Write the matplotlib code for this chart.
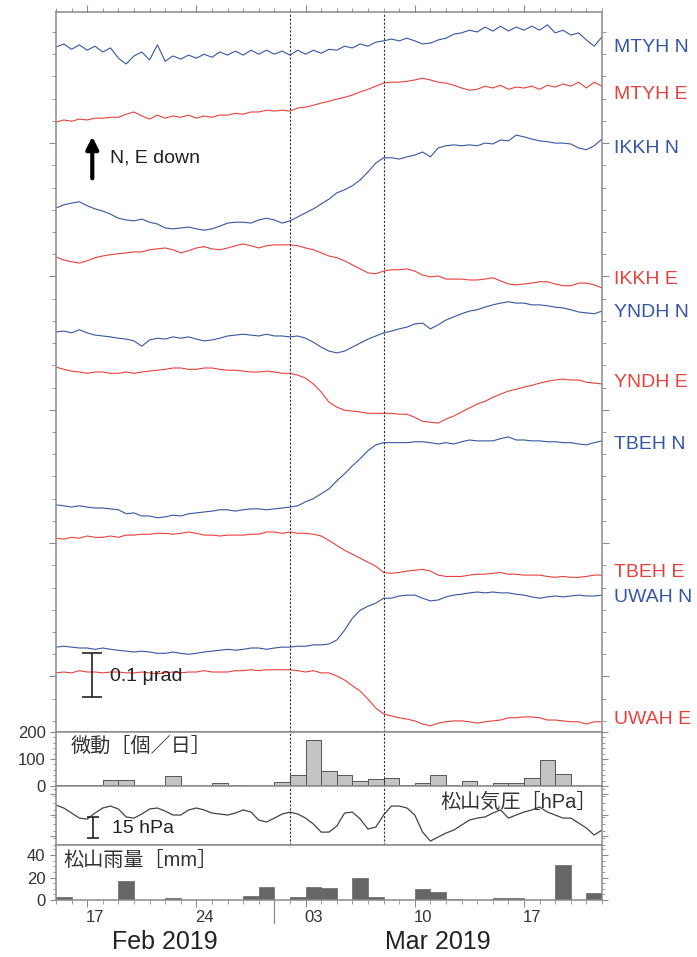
import numpy as np
import matplotlib
matplotlib.use("Agg")
import matplotlib.pyplot as plt
from matplotlib import ticker
from matplotlib.transforms import blended_transform_factory

plt.rcParams['font.family'] = ['Liberation Sans', 'Noto Sans CJK JP', 'DejaVu Sans']

# time in days since 2019-02-15 00:00, one sample every 12 h
t = np.arange(71) * 0.5
days = np.arange(36)

# tilt change from the first sample, nrad (up = N / E down)
mtyh_n = [0, 7, -5, 5, -7, 2, -11, -2, -25, -38, -20, -11, -29, 5, -32, -20, -27, -18, -25, -16,
          -23, -11, -18, -9, -18, -7, -16, -7, -16, -9, -18, -7, -16, -7, -14, -5, -7, 2, -2, 7,
          2, 11, 14, 18, 14, 20, 14, 7, 9, 16, 20, 29, 32, 38, 34, 45, 36, 47, 36, 45,
          38, 47, 38, 50, 32, 38, 27, 32, 16, 2, 23]
mtyh_e = [0, 5, 2, 7, 5, 9, 9, 11, 11, 18, 23, 14, 7, 16, 9, 14, 11, 16, 9, 14,
          11, 16, 16, 20, 18, 23, 23, 27, 25, 27, 25, 32, 34, 38, 43, 47, 52, 56, 61, 68,
          74, 81, 88, 90, 90, 92, 95, 99, 95, 90, 88, 83, 77, 72, 74, 81, 77, 83, 74, 79,
          77, 81, 74, 83, 79, 86, 81, 90, 77, 90, 81]
ikkh_n = [0, 7, 11, 14, 5, -2, -7, -14, -23, -27, -29, -25, -32, -36, -45, -47, -45, -43, -47, -50,
          -47, -41, -34, -32, -32, -34, -27, -23, -27, -34, -29, -20, -11, -2, 9, 20, 34, 41, 50, 63,
          81, 101, 113, 113, 110, 115, 119, 126, 115, 135, 140, 142, 140, 142, 140, 146, 144, 153, 151, 164,
          160, 155, 151, 149, 146, 146, 144, 135, 131, 140, 155]
ikkh_e = [0, -7, -11, -14, -9, -2, 2, 5, 7, 9, 11, 11, 16, 18, 20, 16, 9, 14, 20, 23,
          18, 16, 20, 25, 29, 25, 20, 25, 27, 27, 27, 25, 20, 16, 9, 2, -2, -9, -18, -27,
          -36, -38, -32, -29, -29, -27, -32, -41, -45, -43, -50, -50, -50, -52, -52, -50, -47, -54, -61, -63,
          -61, -59, -56, -56, -61, -65, -65, -59, -59, -63, -70]
yndh_n = [0, 2, -2, 5, -2, -7, -9, -11, -14, -16, -20, -32, -18, -14, -16, -11, -14, -11, -16, -20,
          -18, -14, -9, -7, -5, -7, -9, -5, -9, -9, -11, -9, -14, -23, -34, -43, -47, -43, -34, -25,
          -16, -9, -2, 2, 7, 11, 18, 20, 7, 16, 27, 34, 41, 47, 50, 56, 61, 65, 68, 65,
          65, 61, 61, 59, 56, 54, 50, 45, 43, 41, 47]
yndh_e = [0, -5, -9, -11, -14, -11, -11, -14, -14, -11, -14, -11, -9, -7, -5, -2, -2, -5, -5, -2,
          -2, -5, -7, -7, -9, -11, -11, -9, -11, -14, -14, -18, -25, -38, -56, -79, -90, -97, -99, -101,
          -104, -104, -104, -104, -106, -106, -113, -122, -124, -126, -117, -110, -101, -92, -83, -77, -68, -61, -54, -50,
          -45, -41, -36, -32, -29, -27, -29, -29, -34, -36, -38]
tbeh_n = [0, -2, -5, -2, -5, -7, -7, -9, -11, -20, -18, -25, -25, -29, -27, -23, -25, -20, -18, -16,
          -14, -11, -11, -14, -11, -9, -9, -11, -9, -7, -5, -2, 7, 14, 25, 36, 54, 70, 88, 104,
          122, 135, 140, 140, 140, 140, 142, 142, 140, 137, 140, 137, 142, 146, 144, 144, 144, 149, 153, 146,
          146, 144, 144, 142, 142, 140, 140, 137, 135, 140, 144]
tbeh_e = [0, -2, 2, 0, 5, 2, 2, 5, 2, 7, 7, 9, 9, 11, 11, 9, 11, 14, 11, 7,
          7, 5, 7, 7, 7, 9, 9, 14, 14, 11, 14, 11, 11, 9, 5, -5, -16, -27, -36, -45,
          -54, -63, -77, -79, -77, -74, -72, -70, -74, -83, -86, -86, -86, -83, -81, -81, -79, -77, -81, -81,
          -83, -83, -83, -86, -88, -86, -88, -88, -86, -83, -83]
uwah_n = [0, 2, 0, -2, -2, -5, -2, -5, -7, -9, -11, -9, -11, -14, -14, -11, -14, -16, -14, -11,
          -9, -7, -5, -7, -5, -2, -2, -5, -2, 0, 0, 2, 2, 5, 5, 7, 16, 38, 65, 83,
          92, 99, 110, 110, 115, 117, 117, 110, 104, 106, 113, 117, 119, 122, 124, 122, 124, 122, 122, 119,
          117, 113, 110, 113, 115, 113, 115, 117, 115, 115, 117]
uwah_e = [0, 2, 0, 5, 2, 2, 0, 2, 2, 0, 0, 2, 0, -2, 0, 2, 0, 2, 2, 5,
          2, 2, 2, 5, 5, 7, 5, 7, 7, 7, 7, 5, 2, 5, 0, 0, -7, -16, -29, -41,
          -59, -79, -92, -97, -101, -104, -108, -115, -119, -113, -110, -108, -108, -110, -113, -110, -108, -106, -101, -101,
          -99, -99, -101, -106, -106, -108, -110, -110, -115, -110, -110]

names = ["MTYH N", "MTYH E", "IKKH N", "IKKH E", "YNDH N",
         "YNDH E", "TBEH N", "TBEH E", "UWAH N", "UWAH E"]
traces = [mtyh_n, mtyh_e, ikkh_n, ikkh_e, yndh_n, yndh_e, tbeh_n, tbeh_e, uwah_n, uwah_e]
offsets = [1541, 1372, 1179, 1069, 900, 821, 511, 436, 191, 133]

# Matsuyama pressure, hPa, every 12 h
pressure = [1023.4, 1021.3, 1017.7, 1014.1, 1013.4, 1017.7, 1021.3, 1022.7, 1020.6, 1014.9,
            1014.1, 1017.0, 1020.6, 1021.3, 1019.1, 1016.3, 1016.3, 1019.9, 1021.3, 1019.9,
            1017.7, 1017.0, 1016.3, 1017.7, 1019.9, 1018.4, 1012.7, 1011.3, 1014.1, 1017.0,
            1018.4, 1017.0, 1014.1, 1009.9, 1004.1, 1004.1, 1008.4, 1017.7, 1018.4, 1013.4,
            1006.3, 1007.7, 1016.3, 1022.7, 1022.7, 1021.3, 1016.3, 1004.1, 997.7, 1000.6,
            1003.4, 1005.6, 1009.1, 1012.7, 1014.1, 1014.9, 1017.7, 1019.9, 1014.1, 1016.3,
            1018.4, 1019.9, 1022.0, 1018.4, 1016.3, 1014.1, 1014.1, 1010.6, 1007.0, 1002.0,
            1005.6]

# tremor count per day and daily rain (mm), from 2019-02-15
tremor = [3, 3, 3, 21, 21, 0, 0, 36, 0, 0, 11, 5, 0, 0, 15, 40, 172, 54, 42, 19,
          27, 31, 5, 12, 40, 2, 19, 0, 10, 10, 30, 98, 43, 0, 0, 0]
rain = [3, 0, 0, 0, 17, 0, 0, 1.5, 0, 0, 0, 0, 4, 12, 0, 3, 12, 11, 0, 20,
        3, 0, 0, 10, 7, 1, 0, 0, 2, 1.5, 0, 0, 31, 0, 6, 0]

event_days = [15, 21]            # Mar 2, Mar 8
week_starts = [2, 9, 16, 23, 30]
day_labels = ["17", "24", "03", "10", "17"]
months = [("Feb 2019", 0, 14), ("Mar 2019", 14, 35)]

BLUE = "#3556a6"
RED = "#e8413c"
SPINE = "#8a8a8a"
TXT = "#333333"

fig = plt.figure(figsize=(6.97, 9.57), dpi=100)
L, W = 0.0803, 0.7834
ax = fig.add_axes([L, 0.2351, W, 0.7524])
ax_t = fig.add_axes([L, 0.17868, W, 0.05643])
ax_p = fig.add_axes([L, 0.11703, W, 0.06165])
ax_r = fig.add_axes([L, 0.05956, W, 0.05747])

for a in (ax, ax_t, ax_p, ax_r):
    a.set_xlim(0, 35)
    for s in a.spines.values():
        s.set_color(SPINE)
        s.set_linewidth(1.1)
    a.tick_params(colors=SPINE, labelcolor=TXT, labelsize=12, direction='out')
    a.tick_params(which='minor', colors=SPINE)

# ---- tilt panel
for name, tr, off in zip(names, traces, offsets):
    col = BLUE if name.endswith("N") else RED
    ax.plot(t, off + np.array(tr), color=col, lw=0.8)

ax.set_ylim(0, 1620)
ax.yaxis.set_major_locator(ticker.FixedLocator(np.arange(125, 1620, 300)))
ax.yaxis.set_minor_locator(ticker.FixedLocator(np.arange(25, 1620, 50)))
ax.tick_params(axis='y', which='both', left=True, right=True, labelleft=False)
ax.tick_params(axis='y', which='major', length=5)
ax.tick_params(axis='y', which='minor', length=3)
ax.xaxis.set_major_locator(ticker.FixedLocator(week_starts))
ax.xaxis.set_minor_locator(ticker.FixedLocator(days))
ax.tick_params(axis='x', which='both', top=True, bottom=False, labelbottom=False)
ax.tick_params(axis='x', which='major', length=5)
ax.tick_params(axis='x', which='minor', length=3)

label_y = [0.951, 0.886, 0.811, 0.628, 0.582, 0.486, 0.399, 0.222, 0.1875, 0.017]
for name, yy in zip(names, label_y):
    col = BLUE if name.endswith("N") else RED
    ax.text(1.022, yy, name, transform=ax.transAxes, color=col, fontsize=14,
            ha='left', va='center', clip_on=False)

# arrow + legend text
ax.annotate("", xy=(0.0665, 0.827), xytext=(0.0665, 0.769), xycoords='axes fraction',
            arrowprops=dict(arrowstyle='-|>', color='black', lw=3.0, mutation_scale=18,
                            shrinkA=0, shrinkB=0))
ax.text(0.099, 0.797, "N, E down", transform=ax.transAxes, fontsize=14,
        color='#222222', va='center')

# 0.1 urad scale bar
ax.errorbar([2.33], [128], yerr=50, color='#222222', lw=1.2, capsize=7, capthick=1.2)
ax.text(3.46, 124, "0.1 μrad", fontsize=14, color='#222222', va='center')

# ---- tremor panel
ax_t.bar(days, tremor, width=1.0, align='edge', color='#c4c4c4', edgecolor='#555555', lw=0.7)
ax_t.set_ylim(0, 200)
ax_t.set_yticks([0, 100, 200])
ax_t.yaxis.set_minor_locator(ticker.MultipleLocator(20))
ax_t.tick_params(axis='y', which='both', right=True)
ax_t.tick_params(axis='y', which='major', length=4)
ax_t.tick_params(axis='y', which='minor', length=2)
ax_t.tick_params(axis='x', which='both', bottom=False, labelbottom=False)
ax_t.text(0.026, 0.74, "微動［個／日］", transform=ax_t.transAxes, fontsize=14.5,
          color=TXT, va='center', ha='left')

# ---- pressure panel
ax_p.plot(t, pressure, color='#444444', lw=0.9)
ax_p.set_ylim(994.9, 1037)
ax_p.yaxis.set_major_locator(ticker.FixedLocator([1001, 1016, 1031]))
ax_p.yaxis.set_minor_locator(ticker.MultipleLocator(5))
ax_p.tick_params(axis='y', which='both', right=True, labelleft=False)
ax_p.tick_params(axis='y', which='major', length=4)
ax_p.tick_params(axis='y', which='minor', length=2)
ax_p.tick_params(axis='x', which='both', bottom=False, labelbottom=False)
ax_p.errorbar([2.37], [1007.4], yerr=7.5, color='#222222', lw=1.2, capsize=4.5, capthick=1.2)
ax_p.text(3.6, 1007.0, "15 hPa", fontsize=14, color='#222222', va='center')
ax_p.text(0.99, 0.72, "松山気圧［hPa］", transform=ax_p.transAxes, fontsize=14.5,
          color=TXT, va='center', ha='right')

# ---- rain panel
ax_r.bar(days, rain, width=1.0, align='edge', color='#666666', edgecolor='#666666', lw=0.5)
ax_r.set_ylim(0, 49)
ax_r.set_yticks([0, 20, 40])
ax_r.yaxis.set_minor_locator(ticker.MultipleLocator(5))
ax_r.tick_params(axis='y', which='both', right=True)
ax_r.tick_params(axis='y', which='major', length=4)
ax_r.tick_params(axis='y', which='minor', length=2)
ax_r.text(0.014, 0.72, "松山雨量［mm］", transform=ax_r.transAxes, fontsize=14.5,
          color=TXT, va='center', ha='left')
ax_r.xaxis.set_major_locator(ticker.FixedLocator(week_starts))
ax_r.xaxis.set_minor_locator(ticker.FixedLocator(days))
ax_r.xaxis.set_major_formatter(ticker.NullFormatter())
ax_r.tick_params(axis='x', which='major', length=5)
ax_r.tick_params(axis='x', which='minor', length=3)

sec = ax_r.secondary_xaxis('bottom')
sec.set_xticks([d + 0.5 for d in week_starts], day_labels)
sec.tick_params(length=0, pad=7, labelsize=12, labelcolor=TXT)
sec.spines['bottom'].set_visible(False)

trans = blended_transform_factory(ax_r.transData, ax_r.transAxes)
ax_r.plot([14, 14], [0, -0.42], transform=trans, color=SPINE, lw=0.9, clip_on=False)
for label, a0, a1 in months:
    ax_r.text((a0 + a1) / 2, -0.76, label, transform=trans, fontsize=18,
              ha='center', va='center', color='#222222')

# event lines
for a in (ax, ax_t, ax_p):
    for d in event_days:
        a.axvline(d, color='#333333', lw=0.8, ls=(0, (2, 1.5)))

fig.savefig("out.png", dpi=100)
